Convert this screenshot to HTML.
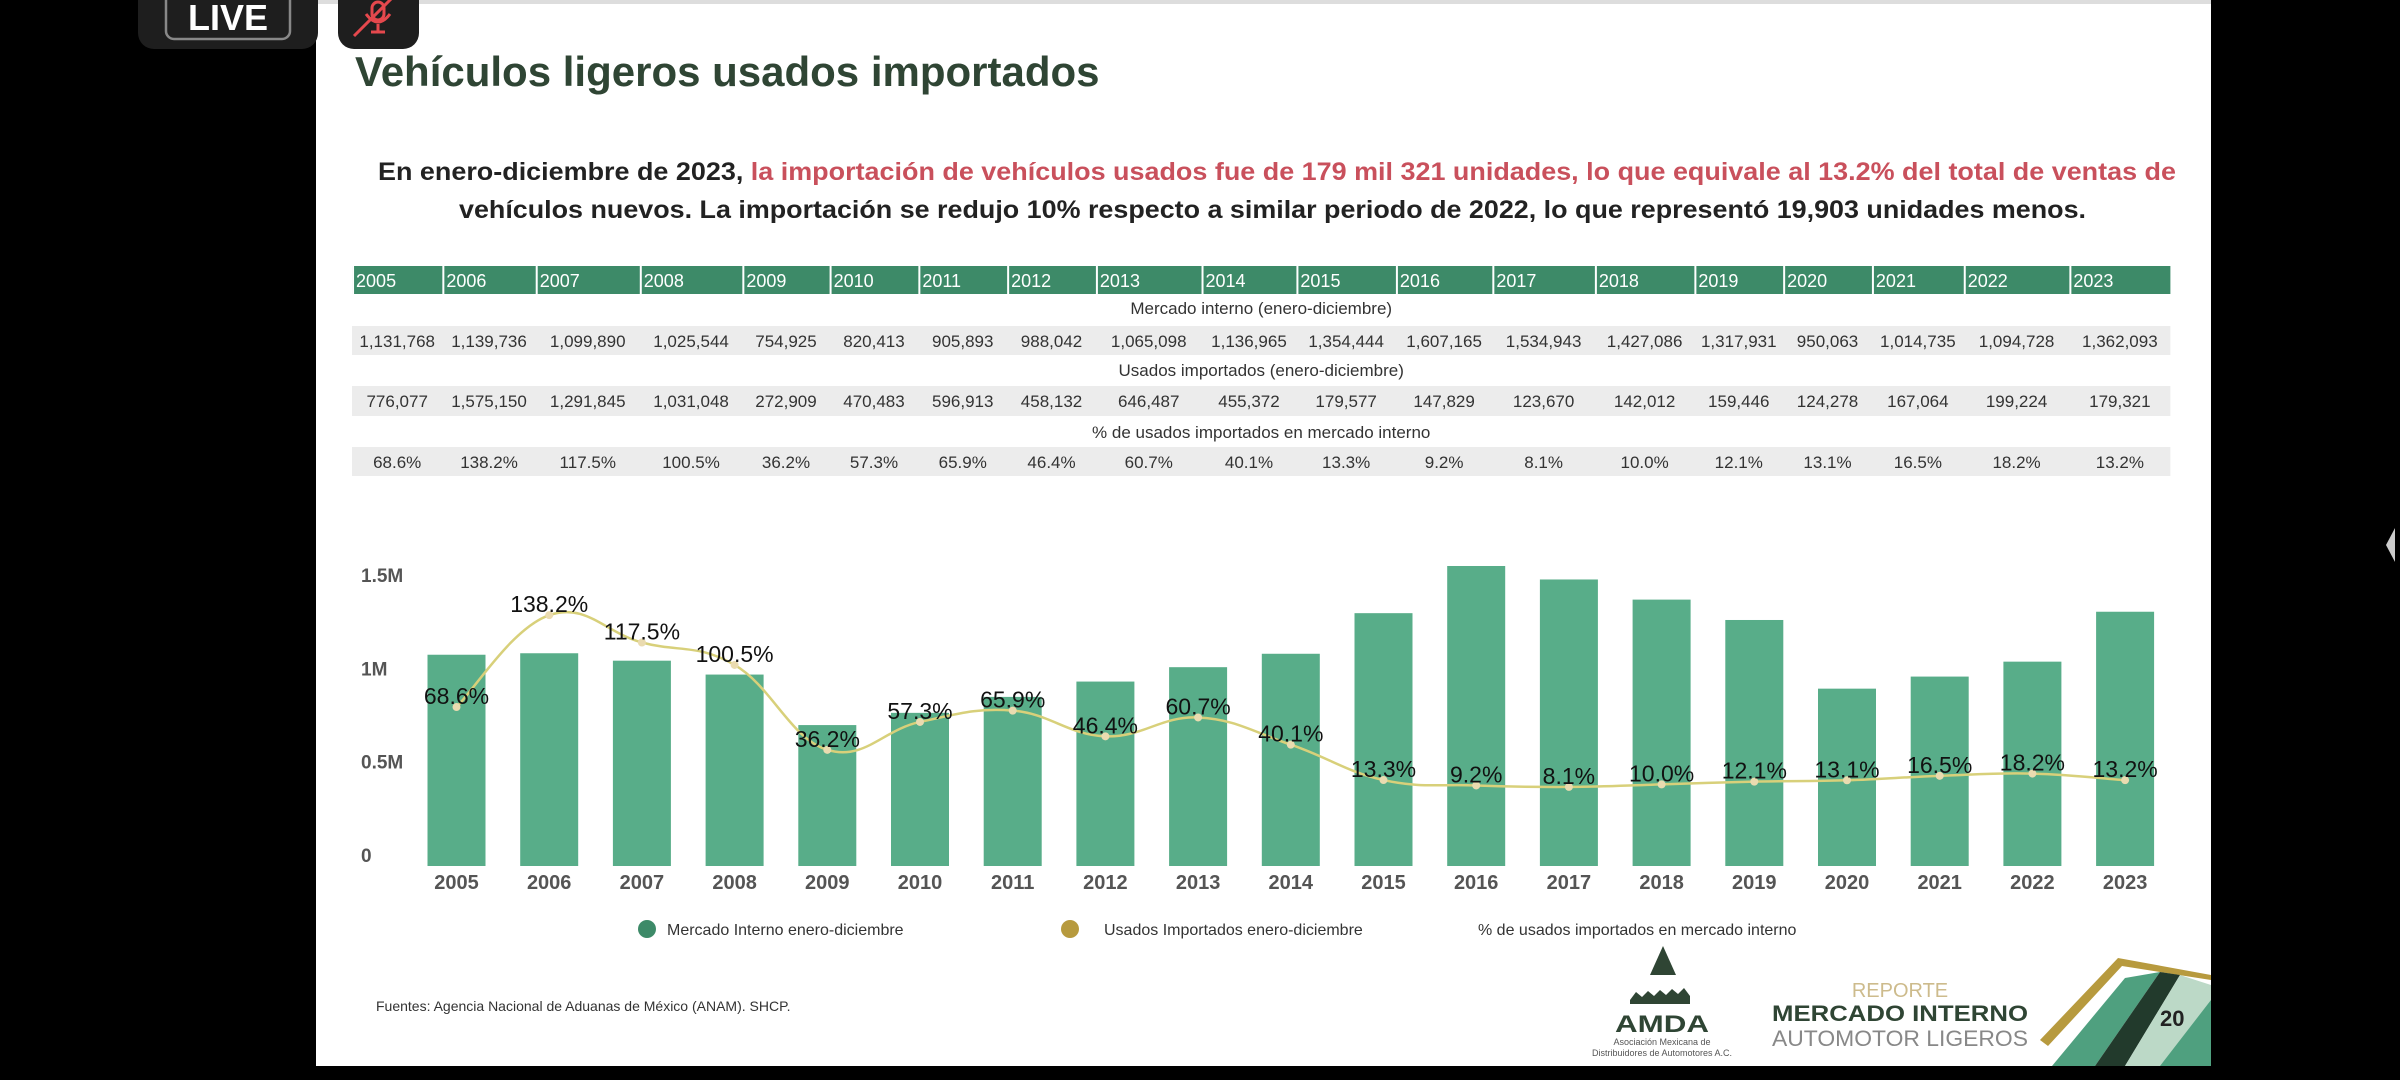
<!DOCTYPE html>
<html><head><meta charset="utf-8"><style>
html,body{margin:0;padding:0;background:#000;width:2400px;height:1080px;overflow:hidden}
svg{display:block}
text{font-family:"Liberation Sans",sans-serif}
</style></head><body>
<svg id="s" width="2400" height="1080" xmlns="http://www.w3.org/2000/svg">
<rect x="0" y="0" width="2400" height="1080" fill="#000"/>
<rect x="316" y="0" width="1895" height="1066" fill="#fff"/>
<rect x="316" y="0" width="1895" height="4" fill="#ddd"/>
<!-- LIVE -->
<rect x="138" y="-20" width="180" height="69" rx="16" fill="#1e1e1e"/>
<rect x="166" y="-10" width="124" height="49" rx="8" fill="none" stroke="#888" stroke-width="2.5"/>
<text x="228" y="30" font-size="36" font-weight="bold" fill="#fff" text-anchor="middle">LIVE</text>
<rect x="338" y="-20" width="81" height="69" rx="16" fill="#1e1e1e"/>
<g stroke="#e5484d" stroke-width="3" fill="none"><rect x="372" y="2" width="12" height="18" rx="6"/><path d="M366 14 q12 16 24 0 M378 24 v8 M371 32 h14 M354 36 L392 -2"/></g>
<path d="M2395 528 L2386 545 L2395 562 Z" fill="#ccc"/>
<text x="355" y="86" font-size="42" font-weight="bold" fill="#2f4534">Vehículos ligeros usados importados</text>
<text x="378" y="180" font-size="25" font-weight="bold" fill="#222" textLength="1798" lengthAdjust="spacingAndGlyphs">En enero-diciembre de 2023, <tspan fill="#c9505c">la importación de vehículos usados fue de 179 mil 321 unidades, lo que equivale al 13.2% del total de ventas de</tspan></text>
<text x="459" y="218" font-size="25" font-weight="bold" fill="#222" textLength="1627" lengthAdjust="spacingAndGlyphs">vehículos nuevos. La importación se redujo 10% respecto a similar periodo de 2022, lo que representó 19,903 unidades menos.</text>
<g id="tbl"></g>
<g id="chart"></g>
<text x="376" y="1011" font-size="14" fill="#333">Fuentes: Agencia Nacional de Aduanas de México (ANAM). SHCP.</text>
<!-- AMDA logo -->
<path d="M1663 946 L1650 975 L1676 975 Z" fill="#2f4534"/>
<path d="M1630 1000 l6 -8 l6 5 l6 -6 l6 5 l6 -6 l6 5 l6 -6 l6 5 l6 -6 l6 8 v8 h-60 z" fill="#2f4534"/>
<text x="1662" y="1032" font-size="24" font-weight="bold" fill="#2f4534" text-anchor="middle" textLength="94" lengthAdjust="spacingAndGlyphs">AMDA</text>
<text x="1662" y="1045" font-size="9" fill="#555" text-anchor="middle">Asociación Mexicana de</text>
<text x="1662" y="1056" font-size="9" fill="#555" text-anchor="middle">Distribuidores de Automotores A.C.</text>
<text x="1900" y="997" font-size="20" fill="#cdbb8c" text-anchor="middle">REPORTE</text>
<text x="1900" y="1021" font-size="22" font-weight="bold" fill="#2f4534" text-anchor="middle" textLength="256" lengthAdjust="spacingAndGlyphs">MERCADO INTERNO</text>
<text x="1900" y="1046" font-size="22" fill="#888" text-anchor="middle" textLength="256" lengthAdjust="spacingAndGlyphs">AUTOMOTOR LIGEROS</text>
<path d="M2040 1040 L2118 958 L2211 975 L2211 980 L2122 966 L2048 1046 Z" fill="#b79a3e"/>
<path d="M2052 1066 L2125 978 L2160 972 L2095 1066 Z" fill="#4fa07f"/>
<path d="M2095 1066 L2160 972 L2180 975 L2125 1066 Z" fill="#223a2c"/>
<path d="M2125 1066 L2180 975 L2211 985 L2211 1066 Z" fill="#bcd9c7"/>
<path d="M2160 1066 L2211 1000 L2211 1066 Z" fill="#4fa07f"/>
<text x="2160" y="1026" font-size="22" font-weight="bold" fill="#222">20</text>
</svg>
<script>
var NS="http://www.w3.org/2000/svg";
function el(p,t,a,txt){var e=document.createElementNS(NS,t);for(var k in a)e.setAttribute(k,a[k]);if(txt!=null)e.textContent=txt;p.appendChild(e);return e;}
var years=[];for(var y=2005;y<=2023;y++)years.push(y);
var mi=[1131768,1139736,1099890,1025544,754925,820413,905893,988042,1065098,1136965,1354444,1607165,1534943,1427086,1317931,950063,1014735,1094728,1362093];
var ui=[776077,1575150,1291845,1031048,272909,470483,596913,458132,646487,455372,179577,147829,123670,142012,159446,124278,167064,199224,179321];
var pc=[68.6,138.2,117.5,100.5,36.2,57.3,65.9,46.4,60.7,40.1,13.3,9.2,8.1,10.0,12.1,13.1,16.5,18.2,13.2];
function fmt(n){return n.toString().replace(/\B(?=(\d{3})+(?!\d))/g,",");}
var T=document.getElementById('tbl');
var cb=[230,289,350,418,485,542,600,658,716,785,847,912,975,1042,1107,1165,1223,1283,1352,1418].map(function(v){return v*1.5306;});
el(T,'rect',{x:cb[0],y:266,width:cb[19]-cb[0],height:28,fill:'#3d8a68'});
[[326,355],[386,416],[447,476]].forEach(function(r){el(T,'rect',{x:cb[0],y:r[0],width:cb[19]-cb[0],height:r[1]-r[0],fill:'#ececec'});});
for(var i=0;i<19;i++){
 el(T,'rect',{x:cb[i],y:266,width:2,height:28,fill:'#fff'});
 el(T,'text',{x:cb[i]+4,y:287,'font-size':18,fill:'#fff'},years[i]);
 var cx=(cb[i]+cb[i+1])/2;
 el(T,'text',{x:cx,y:347,'font-size':17,fill:'#333','text-anchor':'middle'},fmt(mi[i]));
 el(T,'text',{x:cx,y:407,'font-size':17,fill:'#333','text-anchor':'middle'},fmt(ui[i]));
 el(T,'text',{x:cx,y:468,'font-size':17,fill:'#333','text-anchor':'middle'},pc[i].toFixed(1)+'%');
}
var mid=(cb[0]+cb[19])/2;
el(T,'text',{x:mid,y:314,'font-size':17,fill:'#333','text-anchor':'middle'},'Mercado interno (enero-diciembre)');
el(T,'text',{x:mid,y:376,'font-size':17,fill:'#333','text-anchor':'middle'},'Usados importados (enero-diciembre)');
el(T,'text',{x:mid,y:438,'font-size':17,fill:'#333','text-anchor':'middle'},'% de usados importados en mercado interno');
var C=document.getElementById('chart');
var base=866,sc=280/1.5e6;
[['1.5M',0],['1M',1],['0.5M',2],['0',3]].forEach(function(t){el(C,'text',{x:361,y:582+t[1]*93.3,'font-size':19,fill:'#555','font-weight':'bold'},t[0]);});
var pts=[];
for(var i=0;i<19;i++){
 var cx=456.5+i*92.7,h=mi[i]*sc;
 el(C,'rect',{x:cx-29,y:base-h,width:58,height:h,fill:'#58ad89'});
 el(C,'text',{x:cx,y:889,'font-size':20,fill:'#555','font-weight':'bold','text-anchor':'middle'},years[i]);
 pts.push([cx,797.6-1.32*pc[i]]);
}
var d='M'+pts[0][0]+' '+pts[0][1];
for(var i=0;i<pts.length-1;i++){
 var p0=pts[Math.max(0,i-1)],p1=pts[i],p2=pts[i+1],p3=pts[Math.min(pts.length-1,i+2)];
 var t=0.2;
 d+=' C'+(p1[0]+(p2[0]-p0[0])*t)+' '+(p1[1]+(p2[1]-p0[1])*t)+' '+(p2[0]-(p3[0]-p1[0])*t)+' '+(p2[1]-(p3[1]-p1[1])*t)+' '+p2[0]+' '+p2[1];
}
el(C,'path',{d:d,fill:'none',stroke:'#d8d07a','stroke-width':2.5});
for(var i=0;i<19;i++){
 el(C,'circle',{cx:pts[i][0],cy:pts[i][1],r:4,fill:'#eadbb0'});
 el(C,'text',{x:pts[i][0],y:pts[i][1]-3,'font-size':23,fill:'#111','text-anchor':'middle'},pc[i].toFixed(1)+'%');
}
el(C,'circle',{cx:647,cy:929,r:9,fill:'#3d8a68'});
el(C,'text',{x:667,y:935,'font-size':16,fill:'#333'},'Mercado Interno enero-diciembre');
el(C,'circle',{cx:1070,cy:929,r:9,fill:'#b79a3e'});
el(C,'text',{x:1104,y:935,'font-size':16,fill:'#333'},'Usados Importados enero-diciembre');
el(C,'text',{x:1478,y:935,'font-size':16,fill:'#333'},'% de usados importados en mercado interno');
</script>
</body></html>
